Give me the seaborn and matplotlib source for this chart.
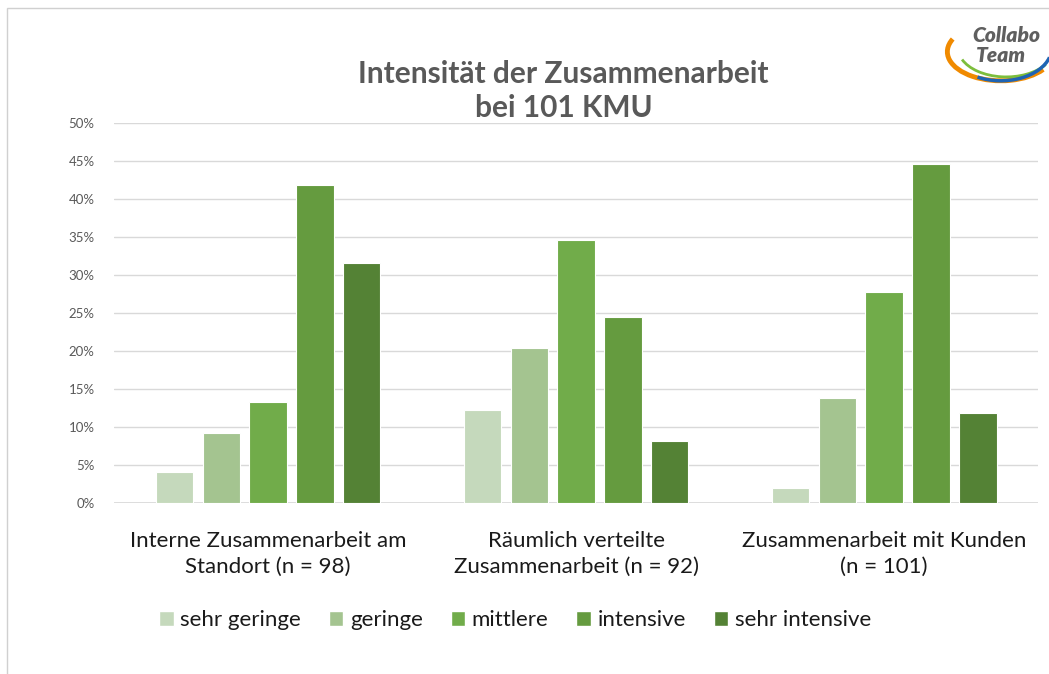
import pandas as pd
import numpy as np
import matplotlib.pyplot as plt
import seaborn as sns
from matplotlib.patches import Rectangle, Arc
from matplotlib.ticker import PercentFormatter

sns.set_style("white")
plt.rcParams['font.family'] = ['Lato', 'DejaVu Sans']

# data (percent)
groups = ["Interne Zusammenarbeit am\nStandort (n = 98)",
          "Räumlich verteilte\nZusammenarbeit (n = 92)",
          "Zusammenarbeit mit Kunden\n(n = 101)"]
levels = ["sehr geringe", "geringe", "mittlere", "intensive", "sehr intensive"]
sehr_geringe = [4.1, 12.2, 2.0]
geringe = [9.2, 20.4, 13.8]
mittlere = [13.3, 34.6, 27.7]
intensive = [41.8, 24.5, 44.6]
sehr_intensive = [31.6, 8.2, 11.9]

colors = ["#C5D9BC", "#A4C490", "#71AC4A", "#659B3F", "#548235"]

rows = []
for lvl, vals in zip(levels, [sehr_geringe, geringe, mittlere, intensive, sehr_intensive]):
    for g, v in zip(groups, vals):
        rows.append({"Gruppe": g, "Intensität": lvl, "Anteil": v})
df = pd.DataFrame(rows)

fig = plt.figure(figsize=(10.49, 6.74), dpi=100)
ax = fig.add_axes([0.1087, 0.2537, 0.881, 0.5638])

sns.barplot(data=df, x="Gruppe", y="Anteil", hue="Intensität", hue_order=levels,
            order=groups, palette=colors, saturation=1, width=0.76, gap=0.2, ax=ax,
            edgecolor="white", linewidth=0.8, legend=False)

ax.set_xlim(-0.5, 2.5)
ax.set_ylim(0, 50)
ax.set_yticks(np.arange(0, 51, 5))
ax.yaxis.set_major_formatter(PercentFormatter(decimals=0))
ax.yaxis.grid(True, color="#D9D9D9", linewidth=1)
ax.set_axisbelow(True)
for s in ax.spines.values():
    s.set_visible(False)
ax.axhline(0, color="#D9D9D9", linewidth=1.2, zorder=0.5)
ax.tick_params(axis="y", labelsize=9.5, labelcolor="#595959", length=0, pad=14)
ax.tick_params(axis="x", labelsize=16, labelcolor="#1a1a1a", length=0, pad=20)
for lbl in ax.get_xticklabels():
    lbl.set_linespacing(1.4)
ax.set_xlabel("")
ax.set_ylabel("")

fig.text(0.537, 0.865, "Intensität der Zusammenarbeit\nbei 101 KMU", ha="center", va="center",
         fontsize=21.5, fontweight="bold", color="#595959", linespacing=1.25)

# legend
handles = [Rectangle((0, 0), 1, 1, facecolor=c) for c in colors]
fig.legend(handles, levels, loc="center", bbox_to_anchor=(0.491, 0.08), ncol=5,
           frameon=False, fontsize=16, handlelength=0.65, handleheight=0.65,
           handletextpad=0.3, columnspacing=1.25, labelcolor="#1a1a1a")

# outer border
fig.patches.append(Rectangle((0.007, -0.01), 1.0, 0.998, transform=fig.transFigure,
                             fill=False, edgecolor="#D0D0D0", linewidth=1))

# logo
lax = fig.add_axes([0.898, 0.86, 0.102, 0.115])
lax.set_xlim(0, 1)
lax.set_ylim(0, 1)
lax.axis("off")
lax.add_patch(Arc((0.55, 0.55), 1.0, 0.75, theta1=160, theta2=330, color="#F08A00", lw=3.5))
lax.add_patch(Arc((0.6, 0.6), 0.9, 0.75, theta1=200, theta2=330, color="#7DBE3C", lw=2))
lax.add_patch(Arc((0.55, 0.6), 0.95, 0.85, theta1=240, theta2=345, color="#1E64B4", lw=2.5))
lax.text(0.6, 0.76, "Collabo", ha="center", va="center", fontsize=15, fontweight="heavy",
         style="italic", color="#5F5F5F")
lax.text(0.55, 0.5, "Team", ha="center", va="center", fontsize=15, fontweight="heavy",
         style="italic", color="#5F5F5F")

fig.savefig("out.png", dpi=100)
